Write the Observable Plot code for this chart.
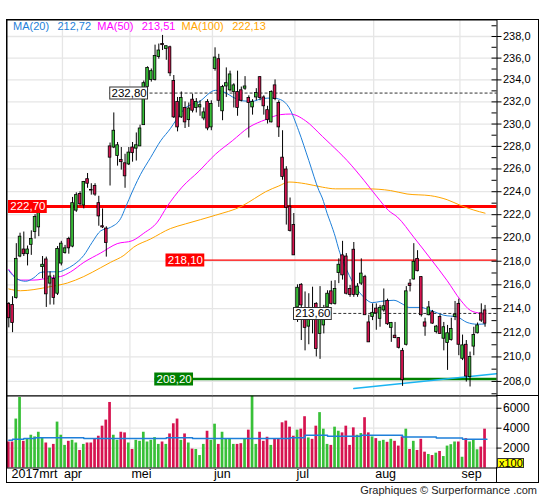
<!DOCTYPE html>
<html><head><meta charset="utf-8">
<script src="https://cdn.jsdelivr.net/npm/d3@7"></script>
<script src="https://cdn.jsdelivr.net/npm/@observablehq/plot@0.6"></script>
<style>
html,body{margin:0;padding:0;background:#fff;}
#wrap{position:relative;width:545px;height:500px;overflow:hidden;font-family:"Liberation Sans",Arial,sans-serif;background:#fff;}
#wrap svg{position:absolute;left:0;}
.box{position:absolute;border:1px solid #000;box-sizing:border-box;pointer-events:none;}
.ln{position:absolute;background:#000;}
#legend{position:absolute;left:13px;top:20px;font-size:11px;line-height:13px;white-space:pre;}
#legend span{display:inline-block;}
#x100{position:absolute;left:497px;top:458px;width:27px;height:10px;background:#ffff00;border:1px solid #333;box-sizing:border-box;font-size:11px;line-height:9px;padding-left:1px;}
#credit{position:absolute;right:8px;top:484px;font-size:11px;line-height:12px;color:#222;}
</style></head><body><div id="wrap"></div>
<script>
// ---------- DATA ----------
const monthLabels = ["2017mrt", "apr", "mei", "jun", "jul", "aug", "sep"];
const monthStart = [0, 15, 33, 55, 77, 98, 121];
const open = [214.4,214.3,214.9,218.4,219.0,218.6,219.4,220.5,220.9,217.5,
218.15,216.1,216.5,215.25,217.8,218.7,219.9,219.25,222.35,223.8,
222.8,225.1,224.15,224.5,223.0,221.0,220.8,228.0,227.9,227.15,
226.8,226.5,226.4,227.9,227.8,228.0,229.9,233.35,234.0,234.0,
236.1,237.3,236.85,237.0,233.9,232.0,230.6,231.45,230.35,232.2,
231.45,231.5,230.5,232.0,229.7,235.0,235.9,231.15,233.4,233.05,
232.9,232.9,233.05,233.2,232.35,231.5,232.4,234.25,232.4,231.25,
230.15,233.5,231.9,227.0,225.95,222.7,221.1,214.1,216.0,213.15,
212.5,213.7,214.4,211.9,212.6,214.1,215.45,214.4,217.0,218.5,
218.4,215.65,218.98,215.15,216.1,216.65,212.85,213.3,214.0,213.15,
213.85,214.65,212.4,211.75,211.55,210.5,211.0,216.1,216.45,218.2,
216.65,212.85,213.45,213.7,212.05,213.3,211.5,211.15,211.4,213.3,
214.4,209.85,211.0,208.35,210.85,211.95,213.6,213.85];
const high = [214.5,215.0,219.5,220.4,220.5,219.3,220.6,222.0,222.6,218.4,
218.35,217.1,216.8,219.25,219.7,219.35,220.05,223.5,223.9,224.0,
224.9,225.6,224.7,224.7,223.6,222.5,220.95,228.3,231.0,228.35,
227.9,227.3,227.9,228.35,229.2,229.9,233.9,235.2,235.0,237.2,
237.3,238.1,237.1,237.1,234.4,232.4,232.9,232.0,231.9,232.7,
232.3,232.1,231.45,232.2,232.1,236.95,236.35,233.5,235.1,234.8,
233.65,234.8,233.35,234.3,232.55,232.2,233.2,234.3,232.55,231.6,
233.0,234.0,232.1,229.4,226.2,223.45,222.1,216.0,216.1,215.4,
215.25,215.8,214.5,215.85,214.27,215.5,216.3,216.35,218.2,219.7,
218.65,215.95,219.6,216.1,218.2,216.8,213.45,214.4,214.4,214.27,
215.65,214.8,212.85,212.85,211.6,210.7,215.85,216.45,219.5,218.9,
216.7,213.2,214.6,213.85,212.6,213.5,212.85,212.6,213.2,214.6,
214.8,211.8,211.35,210.4,212.45,212.8,214.4,214.27];
const low = [212.4,212.0,214.8,218.3,218.4,217.6,218.5,219.9,220.1,216.5,
214.1,214.3,214.3,215.1,217.6,218.6,218.6,219.15,222.2,222.75,
222.5,224.3,223.7,223.6,221.0,220.8,218.35,224.5,227.8,226.25,
225.9,224.3,226.3,226.6,226.7,228.0,229.9,233.0,233.8,233.9,
235.9,236.7,235.8,234.3,230.5,229.3,230.5,229.6,229.7,231.0,
231.0,230.7,230.3,229.4,229.4,234.8,231.5,230.3,232.4,232.9,
231.45,230.7,232.0,233.05,228.75,230.8,232.1,232.1,230.8,230.0,
230.1,232.1,228.8,225.0,221.1,220.5,218.5,212.85,211.35,210.5,
211.0,211.9,210.0,209.8,211.9,213.85,214.3,214.3,216.1,216.4,
215.15,214.95,214.95,214.95,215.95,213.45,211.2,213.0,212.2,212.45,
213.7,212.6,211.2,211.5,210.65,207.6,210.9,215.4,216.4,217.1,
213.3,211.7,213.4,212.7,211.9,211.9,210.5,208.9,211.3,213.0,
210.1,209.7,207.95,207.55,210.1,211.9,212.85,212.45];
const close = [213.2,212.8,218.2,220.1,218.6,219.0,219.9,221.8,222.4,217.7,
215.2,216.7,214.9,219.05,219.5,219.1,219.1,223.0,223.7,222.9,
224.85,224.7,224.1,223.75,221.85,220.9,219.55,227.0,229.4,228.1,
226.6,225.35,227.45,227.4,228.1,229.6,233.7,235.1,234.8,236.2,
236.7,237.2,237.1,234.6,230.6,229.7,232.35,230.15,231.4,231.2,
232.0,231.7,231.05,229.6,231.8,236.05,232.1,233.35,233.7,234.5,
233.5,231.45,232.1,233.4,231.9,232.0,232.8,232.35,231.6,230.35,
232.9,232.25,229.7,225.3,222.6,220.6,218.5,215.75,214.27,212.4,
213.85,213.45,210.65,213.45,213.85,215.25,214.4,215.65,217.7,216.8,
215.25,215.15,215.15,215.85,216.95,213.45,211.2,213.65,213.6,214.07,
214.2,212.7,212.8,211.55,210.75,208.1,215.45,215.9,217.95,217.15,
213.45,212.5,214.1,212.75,212.5,211.9,212.45,211.95,212.3,213.5,
211.0,210.95,208.4,210.0,211.8,212.6,213.0,212.75];
const volume = [2610,2610,4915,7085,2680,2950,3290,3120,3590,3050,
2510,2000,2370,4610,3290,2270,2680,2780,2510,1760,
2370,2510,2510,2915,3190,4200,4810,6580,3290,2780,
3590,3525,2510,1860,2780,2680,3590,2610,2780,3050,
2370,2610,2370,3420,4440,4915,2780,3420,2510,1900,
1860,1250,2370,3690,2780,4400,2370,3590,2950,2950,
2370,2370,2440,2950,3800,7255,2370,3590,2680,3085,
2270,2915,2915,4540,4710,4100,3190,3800,3900,5150,
3020,2880,4200,5560,3900,2370,2270,4100,3690,3525,
4200,2270,4030,3290,3460,5050,3525,3120,2950,2680,
2780,2580,2880,2680,2200,3120,3900,1860,2680,1760,
2880,1590,1360,1250,1490,1660,1150,2200,2340,2610,
2610,1080,2950,2610,2780,1830,2100,3900];
// moving averages: [day index, value]
const ma20 = [[0,217.2],[2.2,216.5],[4.5,216.3],[6.7,216.6],[8.5,217.05],[10.2,217.1],[13.3,217.1],[15.1,217.3],[17.3,217.7],[20,218.5],[22.2,219.6],[24.5,220.6],[27.1,220.9],[29.8,221.65],[31.1,222.6],[32,223.3],[35.1,225.5],[37.8,227.0],[40.5,228.5],[43.1,229.6],[44.5,230.3],[47.1,231.45],[50.7,232.0],[55.1,233.05],[57.3,232.9],[60.5,232.3],[62.2,232.1],[64.9,232.05],[67.6,232.3],[70.2,232.35],[72.5,232.2],[74.7,231.5],[77.3,229.4],[80,226.75],[82.7,224.1],[83.6,223.45],[84.9,222.1],[85.8,221.3],[87.1,220.05],[88,219.0],[90.2,217.2],[92.5,215.8],[94.7,214.95],[96.9,214.5],[99.1,214.6],[102.7,214.7],[104.9,214.4],[106.7,214.1],[109.8,214.1],[112.5,213.85],[116,213.45],[119.6,213.3],[122.2,212.85],[124.9,212.7],[127,212.72]];
const ma50 = [[0,217.3],[3.1,216.4],[6.7,216.4],[11.1,216.6],[13.8,216.7],[16.5,217.1],[20,217.9],[24.5,218.7],[28.9,219.5],[32.9,219.75],[36,220.4],[39.6,221.35],[42.2,222.7],[46.2,224.4],[50.7,225.8],[55.1,227.3],[59.6,228.5],[64,229.7],[68.5,230.4],[72.5,230.85],[75.1,230.9],[79.1,230.3],[83.6,228.9],[85.8,228.2],[90.2,226.75],[94.7,225.0],[98.2,223.55],[101.3,222.35],[103.6,221.8],[108,220.05],[112.5,218.2],[116.9,216.35],[120.5,214.7],[123.1,213.85],[125.8,213.6],[127,213.51]];
const ma100 = [[0,215.65],[3.1,215.5],[6.7,215.6],[11.1,215.85],[15.6,216.15],[20,216.7],[24.5,217.45],[27.1,217.9],[30.7,218.5],[33.3,219.2],[37.8,219.9],[43.1,220.8],[47.1,221.2],[55.1,221.95],[62.2,222.75],[65.5,223.4],[68.5,224.0],[72,224.5],[74.7,224.85],[79.1,224.7],[83.6,224.4],[87.1,224.25],[95.6,224.25],[101.8,224.1],[106.2,223.8],[112.5,223.65],[116.9,223.3],[120.5,222.8],[124,222.4],[127,222.13]];
const volMA = [[0,2780],[1,2880],[4,2950],[7,3050],[20,2950],[42,3050],[49,2950],[75,3050],[79,3290],[85,3190],[94,3290],[105,3120],[114,3020],[121,2880],[127.5,2880]];
const trend = [[92,207.42],[130,208.63]];
const levelPrice = [232.80, 222.70, 218.10, 213.60, 208.20];
const levelFrom = [27, 0, 42, 76, 39];
const priceTicks = [208,210,212,214,216,218,220,222,224,226,228,230,232,234,236,238];
const volTicks = [2000, 4000, 6000];

// ---------- STYLE / LAYOUT ----------
const GREEN = "#38c038", RED = "#d61450", BLUE = "#1e7fd9", MAG = "#ff00ff", ORANGE = "#ffa500", CYAN = "#1ab4f2", GRID = "#e6e6e6";
const LS = [
  {stroke:"#333", w:1, dash:"3,2", fill:"#fff", edge:"#333", text:"#000"},
  {stroke:"#ff0000", w:3, dash:null, fill:"#ff0000", edge:"#ff0000", text:"#fff"},
  {stroke:"#ff0000", w:1.3, dash:null, fill:"#ff0000", edge:"#ff0000", text:"#fff"},
  {stroke:"#333", w:1, dash:"3,2", fill:"#fff", edge:"#333", text:"#000"},
  {stroke:"#008000", w:2.6, dash:null, fill:"#008000", edge:"#008000", text:"#fff"}
];
const PX = 3.75, X0 = 8.3, XL = 6.5, XR = 496.5;
const xDomain = [(XL - X0) / PX, (XR - X0) / PX];
const xEnd = xDomain[1];
const tk = 5 / PX;
const fmtC = (d, n) => d.toFixed(n).replace(".", ",");
const priceMinor = d3.range(207, 240);
const LBL_FONT = 11.5, LBL_DX = 1.5, PAD = 1.8, BOXH = 13;

// text width of level labels (for their background boxes)
const ctx = document.createElement("canvas").getContext("2d");
ctx.font = LBL_FONT + "px 'Liberation Sans', Arial, sans-serif";

const candles = open.map((o, i) => ({i, o, h: high[i], l: low[i], c: close[i], v: volume[i], up: close[i] >= o}));
const levels = levelPrice.map((p, j) => {
  const label = fmtC(p, 2);
  const w = ctx.measureText(label).width;
  return {p, from: levelFrom[j], j, label,
    bx1: levelFrom[j] + (LBL_DX - PAD) / PX, bx2: levelFrom[j] + (LBL_DX + w + PAD) / PX};
});
const P = d => d[0], V = d => d[1];

const boxMarks = [];
levels.forEach(d => {
  const s = LS[d.j];
  if (s.fill === "#fff") {
    boxMarks.push(Plot.ruleY([d], {y: "p", x1: "bx1", x2: "bx2", stroke: s.edge, strokeWidth: BOXH}));
    boxMarks.push(Plot.ruleY([d], {y: "p", x1: e => e.bx1 + 1 / PX, x2: e => e.bx2 - 1 / PX, stroke: s.fill, strokeWidth: BOXH - 2}));
  } else {
    boxMarks.push(Plot.ruleY([d], {y: "p", x1: "bx1", x2: "bx2", stroke: s.fill, strokeWidth: BOXH}));
  }
  boxMarks.push(Plot.text([d], {x: "from", y: "p", dx: LBL_DX, text: "label", textAnchor: "start", fill: s.text, fontSize: LBL_FONT}));
});

const wrap = document.getElementById("wrap");

const price = Plot.plot({
  width: 545, height: 396,
  marginLeft: XL, marginRight: 545 - XR, marginTop: 19.5, marginBottom: 0.5,
  style: {background: "transparent", fontFamily: "Liberation Sans, Arial, sans-serif", fontSize: "11px", color: "#000"},
  x: {domain: xDomain, range: [XL, XR], axis: null},
  y: {type: "log", domain: [206.82, 239.54], range: [395.5, 19.5], axis: null},
  marks: [
    Plot.ruleY(priceTicks, {stroke: GRID, strokeWidth: 1.3}),
    Plot.ruleX(monthStart.slice(1), {x: d => d - 0.7, stroke: GRID, strokeWidth: 1.3}),
    ...levels.map(d => Plot.ruleY([d], {y: "p", x1: "from", x2: () => xEnd, stroke: LS[d.j].stroke, strokeWidth: LS[d.j].w, strokeDasharray: LS[d.j].dash})),
    Plot.line(ma100, {x: P, y: V, stroke: ORANGE, strokeWidth: 1, curve: "monotone-x"}),
    Plot.line(ma50, {x: P, y: V, stroke: MAG, strokeWidth: 1, curve: "monotone-x"}),
    Plot.line(ma20, {x: P, y: V, stroke: BLUE, strokeWidth: 1, curve: "monotone-x"}),
    Plot.line(trend, {x: P, y: V, stroke: CYAN, strokeWidth: 1.5}),
    Plot.ruleX(candles, {x: "i", y1: "l", y2: "h", stroke: "#000", strokeWidth: 1}),
    Plot.rect(candles, {filter: d => d.up, x1: d => d.i - 0.35, x2: d => d.i + 0.35, y1: "o", y2: "c", fill: GREEN, stroke: "#000", strokeWidth: 0.8}),
    Plot.rect(candles, {filter: d => !d.up, x1: d => d.i - 0.35, x2: d => d.i + 0.35, y1: "o", y2: "c", fill: RED, stroke: "#000", strokeWidth: 0.8}),
    ...boxMarks,
    Plot.ruleY(priceMinor, {x1: () => xEnd - tk, x2: () => xEnd, stroke: "#000"}),
    Plot.ruleY(priceTicks, {x1: () => xEnd, x2: () => xEnd + tk, stroke: "#000"}),
    Plot.text(priceTicks, {x: () => xEnd, y: d => d, dx: 6, text: d => fmtC(d, 1), textAnchor: "start", fontSize: 11, fill: "#000"}),
    Plot.frame({stroke: "#000"})
  ]
});
price.style.top = "0px";
wrap.appendChild(price);

const vol = Plot.plot({
  width: 545, height: 95,
  marginLeft: XL, marginRight: 545 - XR, marginTop: 0.5, marginBottom: 22.5,
  style: {background: "transparent", fontFamily: "Liberation Sans, Arial, sans-serif", fontSize: "12px", color: "#000"},
  x: {domain: xDomain, range: [XL, XR], axis: null},
  y: {domain: [0, 7230], range: [72.5, 0.5], axis: null},
  marks: [
    Plot.ruleY(volTicks, {stroke: GRID, strokeWidth: 1.3}),
    Plot.ruleX(monthStart.slice(1), {x: d => d - 0.7, stroke: GRID, strokeWidth: 1.3}),
    Plot.rectY(candles, {filter: d => d.up, x1: d => d.i - 0.36, x2: d => d.i + 0.36, y: "v", fill: GREEN}),
    Plot.rectY(candles, {filter: d => !d.up, x1: d => d.i - 0.36, x2: d => d.i + 0.36, y: "v", fill: RED}),
    Plot.line(volMA, {x: P, y: V, stroke: BLUE, strokeWidth: 1.5, curve: "step-after"}),
    Plot.ruleY(volTicks, {x1: () => xEnd, x2: () => xEnd + tk, stroke: "#000"}),
    Plot.text(volTicks, {x: () => xEnd, y: d => d, dx: 6, text: d => String(d), textAnchor: "start", fontSize: 12, fill: "#000"}),
    Plot.text([monthLabels[0]], {x: () => monthStart[0], frameAnchor: "bottom", dy: 10, dx: 2.7, lineAnchor: "bottom", textAnchor: "start", fontSize: 12.5, fill: "#000", text: d => d}),
    Plot.text(monthLabels.slice(1), {x: (d, i) => monthStart[i + 1] - 0.7, frameAnchor: "bottom", dy: 10, dx: 1.5, lineAnchor: "bottom", textAnchor: "start", fontSize: 12.5, fill: "#000", text: d => d}),
    Plot.frame({stroke: "#000"})
  ]
});
vol.style.top = "395px";
wrap.appendChild(vol);

// frame pieces outside the panels
function div(cls, css) { const e = document.createElement("div"); e.className = cls; Object.assign(e.style, css); wrap.appendChild(e); return e; }
div("box", {left: "6px", top: "19px", width: "533px", height: "464px"});
div("ln", {left: "496px", top: "395px", width: "43px", height: "1px"});
div("ln", {left: "496px", top: "467px", width: "1px", height: "16px"});

// legend
const lg = document.createElement("div"); lg.id = "legend";
[["MA(20)", ma20, BLUE], ["MA(50)", ma50, MAG], ["MA(100)", ma100, ORANGE]].forEach(([name, arr, col]) => {
  const a = document.createElement("span"); a.textContent = name; a.style.color = col; a.style.marginRight = "8.4px";
  const b = document.createElement("span"); b.textContent = fmtC(arr[arr.length - 1][1], 2); b.style.color = col; b.style.marginRight = "6.2px";
  lg.appendChild(a); lg.appendChild(b);
});
wrap.appendChild(lg);

const xb = document.createElement("div"); xb.id = "x100"; xb.textContent = "x100"; wrap.appendChild(xb);
const cr = document.createElement("div"); cr.id = "credit"; cr.textContent = "Graphiques \u00A9 Surperformance .com"; wrap.appendChild(cr);
</script></body></html>
